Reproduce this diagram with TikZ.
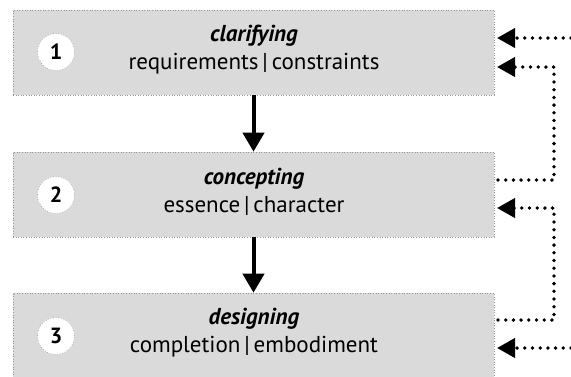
\documentclass[tikz,border=0pt]{standalone}
\usepackage{fontspec}
\setmainfont{PT Sans}
\usetikzlibrary{arrows.meta}
\definecolor{boxgray}{RGB}{218,218,219}
\definecolor{edgegray}{RGB}{150,150,150}
\tikzset{
  stagebox/.style={fill=boxgray, draw=edgegray, dotted, line width=0.6pt,
    minimum width=481pt, minimum height=85pt, inner sep=0pt},
  stagetext/.style={align=center, font=\fontsize{23}{28}\selectfont, inner sep=0pt},
  numdisc/.style={circle, fill=white, draw=edgegray, dotted, line width=0.6pt,
    minimum size=37pt, inner sep=0pt, font=\fontsize{22}{22}\selectfont\bfseries},
  flowarrow/.style={line width=4pt, -{Triangle[length=19pt,width=21pt]}},
  loopline/.style={line width=3.8pt, line cap=round, dash pattern=on 0pt off 7.7pt,
    -{Triangle[length=18pt,width=19pt]}}
}
\begin{document}
\begin{tikzpicture}[x=1pt,y=-1pt]
  \useasboundingbox (0,0) rectangle (571,376);

  % stages
  \node[stagebox] (b1) at (253.5,52.5) {};
  \node[stagebox] (b2) at (253.5,194.5) {};
  \node[stagebox] (b3) at (253.5,335.5) {};

  \node[stagetext] (t1) at (254,50) {\textbf{\textit{clarifying}}\\requirements\,|\,constraints};
  \node[stagetext] (t2) at (254,192) {\textbf{\textit{concepting}}\\essence\,|\,character};
  \node[stagetext] (t3) at (254,333) {\textbf{\textit{designing}}\\completion\,|\,embodiment};

  \node[numdisc] (n1) at (56,52) {1};
  \node[numdisc] (n2) at (56,195) {2};
  \node[numdisc] (n3) at (56,336) {3};

  % forward flow
  \draw[flowarrow] (b1.south) -- (b2.north);
  \draw[flowarrow] (b2.south) -- (b3.north);

  % feedback loops
  \coordinate (in1a) at (571,38);
  \coordinate (tip1a) at (497,38);
  \coordinate (tip1b) at (497,67);
  \coordinate (out2) at (498,180);
  \coordinate (tip2) at (497,208);
  \coordinate (out3) at (498,320);
  \coordinate (in3) at (571,348);
  \coordinate (tip3) at (497,348);

  \draw[loopline] (in1a) -- (tip1a);
  \draw[loopline] (out2) -- (554,180) -- (554,67) -- (tip1b);
  \draw[loopline] (out3) -- (554,320) -- (554,208) -- (tip2);
  \draw[loopline] (in3) -- (tip3);
\end{tikzpicture}
\end{document}
